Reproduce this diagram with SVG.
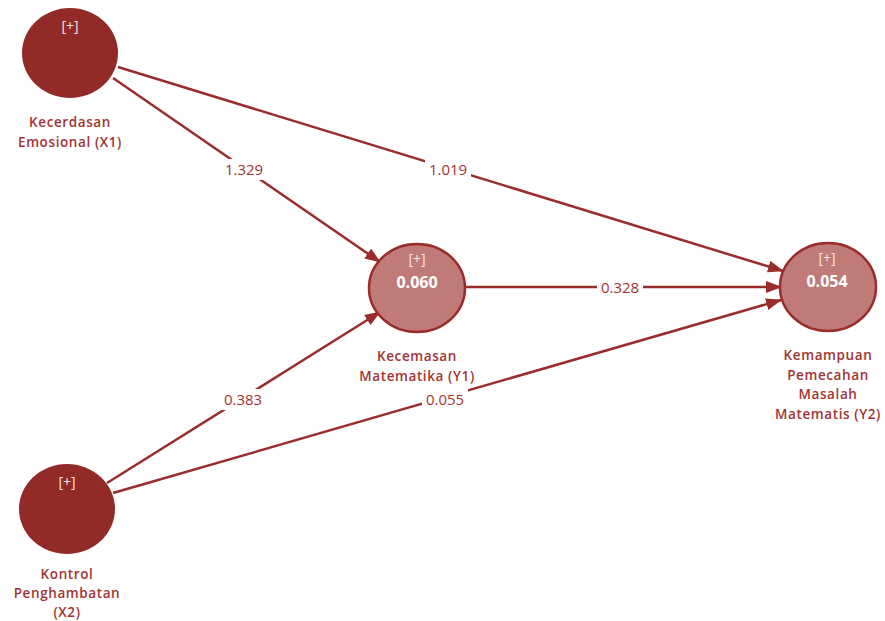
<svg xmlns="http://www.w3.org/2000/svg" width="885" height="621" viewBox="0 0 885 621">
<style>
.dark{fill:#922a27;}
.light{fill:#c07b78;stroke:#9b2c2c;stroke-width:2.5;}
.plus{font-family:"Open Sans","Noto Sans",sans-serif;font-size:14px;fill:#f4e6e6;text-anchor:middle;}
.val{font-family:"Open Sans","Noto Sans",sans-serif;font-size:16px;font-weight:bold;fill:#ffffff;text-anchor:middle;}
.lbl{font-family:"Open Sans","Noto Sans",sans-serif;font-size:13.5px;letter-spacing:0.6px;font-weight:600;fill:#a23333;text-anchor:middle;}
.edge{stroke:#9b2c2c;stroke-width:2.5;fill:none;marker-end:url(#ah);}
.elbl{font-family:"Open Sans","Noto Sans",sans-serif;font-size:15px;fill:#a23333;text-anchor:middle;}
.bg{fill:#ffffff;}
</style>
<defs>
<marker id="ah" markerUnits="userSpaceOnUse" markerWidth="16" markerHeight="12" refX="15" refY="6" orient="auto">
<path d="M0,0 L16,6 L0,12 Z" fill="#9b2c2c"/>
</marker>
</defs>
<rect width="885" height="621" fill="#ffffff"/>
<g id="connectors">
<line class="edge" x1="113" y1="78" x2="380" y2="262"/>
<line class="edge" x1="118" y1="67" x2="783" y2="271"/>
<line class="edge" x1="466" y1="287" x2="781" y2="287"/>
<line class="edge" x1="107" y1="483" x2="380" y2="312"/>
<line class="edge" x1="113" y1="493" x2="781" y2="300"/>
<rect class="bg" x="221" y="159" width="46" height="21"/>
<text class="elbl" x="244" y="175">1.329</text>
<rect class="bg" x="425" y="159" width="46" height="21"/>
<text class="elbl" x="448" y="175">1.019</text>
<rect class="bg" x="597" y="277" width="46" height="21"/>
<text class="elbl" x="620" y="293">0.328</text>
<rect class="bg" x="220" y="389" width="46" height="21"/>
<text class="elbl" x="243" y="405">0.383</text>
<rect class="bg" x="422" y="389" width="46" height="21"/>
<text class="elbl" x="445" y="405">0.055</text>
</g>
<g id="X1">
<ellipse class="dark" cx="70" cy="53" rx="48" ry="45"/>
<text class="plus" x="70" y="31">[+]</text>
<text class="lbl" x="70" y="127">Kecerdasan</text>
<text class="lbl" x="70" y="147">Emosional (X1)</text>
</g>
<g id="Y1">
<ellipse class="light" cx="417" cy="288" rx="48" ry="44"/>
<text class="plus" x="417" y="264">[+]</text>
<text class="val" x="417" y="288">0.060</text>
<text class="lbl" x="417" y="361">Kecemasan</text>
<text class="lbl" x="417" y="381">Matematika (Y1)</text>
</g>
<g id="Y2">
<ellipse class="light" cx="828" cy="287" rx="48" ry="44"/>
<text class="plus" x="827" y="263">[+]</text>
<text class="val" x="827" y="287">0.054</text>
<text class="lbl" x="828" y="360">Kemampuan</text>
<text class="lbl" x="828" y="379.5">Pemecahan</text>
<text class="lbl" x="828" y="399">Masalah</text>
<text class="lbl" x="828" y="418.5">Matematis (Y2)</text>
</g>
<g id="X2">
<ellipse class="dark" cx="67" cy="509" rx="48" ry="45"/>
<text class="plus" x="67" y="487">[+]</text>
<text class="lbl" x="67" y="579">Kontrol</text>
<text class="lbl" x="67" y="598">Penghambatan</text>
<text class="lbl" x="67" y="617">(X2)</text>
</g>
</svg>
